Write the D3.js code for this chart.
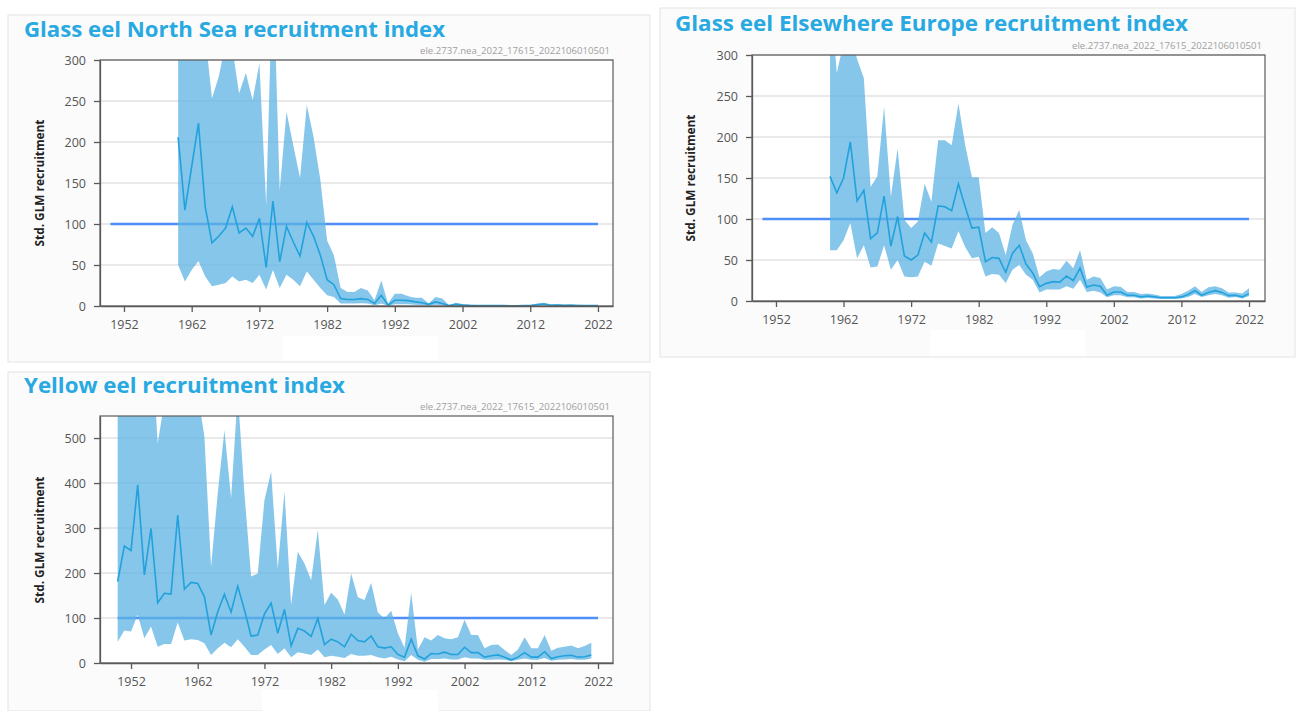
<!DOCTYPE html>
<html>
<head>
<meta charset="utf-8">
<script src="https://cdn.jsdelivr.net/npm/d3@7"></script>
<style>
body { margin: 0; background: #fff; }
text { font-family: "Open Sans", sans-serif; }
</style>
</head>
<body>
<svg id="chart" width="1296" height="711"></svg>
<script>
// tick labels shared by the three panels
var yearTicks = [1952, 1962, 1972, 1982, 1992, 2002, 2012, 2022];
var glassTicks = [0, 50, 100, 150, 200, 250, 300];
var yellowTicks = [0, 100, 200, 300, 400, 500];
var refValue = 100;
var refYears = [1950, 2022];
var stamp = "ele.2737.nea_2022_17615_2022106010501";

// Glass eel North Sea, 1960-2022
var nsStart = 1960;
var nsMean = [206,117,170,223,121,77,85,95,121,89,
  95,85,107,47,128,54,97,78,61,102,
  85,62,32,26,9,8,8,9,8,3,
  13,1,7,7,6.5,5,4,2,5,3,
  0.5,2,1.2,0.8,0.6,0.5,0.5,0.4,0.4,0.3,
  0.3,0.4,0.6,1.5,2.5,1,1.2,0.8,1,0.7,
  0.6,0.5,0.4];
var nsUpper = [500,460,420,380,330,253,280,320,315,259,
  284,251,296,123,420,141,237,196,156,245,
  206,154,80,62,22,17,17,22,19,7,
  31,3,15,15,12,10,10,3,11,9,
  1,4,2.5,1.5,1.2,1,1,0.8,0.8,0.6,
  0.6,0.8,1.2,3,4,2,2.2,1.5,2,1.4,
  1.2,1,0.8];
var nsLower = [50,30,44,55,36,24,26,28,36,30,
  32,28,38,20,44,22,38,32,24,42,
  32,22,13,11,3,3,3,3.5,3,1,
  3,0.2,2,2,2,1.5,1.2,0.5,1.5,1,
  0.1,0.5,0.4,0.3,0.2,0.2,0.2,0.2,0.2,0.1,
  0.1,0.2,0.3,0.6,1,0.4,0.5,0.3,0.4,0.3,
  0.2,0.2,0.1];

// Glass eel Elsewhere Europe, 1960-2022
var eeStart = 1960;
var eeMean = [152,132,150,194,122,135,76,83,128,67,
  103,55,50,56,83,72,116,115,110,143,
  115,89,90,48,53,52,35,58,68,45,
  34,17.5,21.5,23.6,23,30.5,25,40,17,19.5,
  18,7,11,11,7,7,5,6,5,4,
  4,4,5,8,12.6,7,10.5,12.6,10.5,6.5,
  7,5,9];
var eeUpper = [380,278,315,325,295,272,139,152,237,127,
  186,99,89,97,143,121,196,196,190,241,
  190,151,151,83,90,83,56,93,111,74,
  58,29,36,39,38,49,40,62,26,30,
  28,14,18,17.5,11,11,8.5,9,8,6,
  6,6,8.5,12.6,18,11,16.7,18,15.4,10.5,
  10.5,9,15.4];
var eeLower = [62,62,74,95,52,68,41,42,68,38,
  50,30,29,30,48,43,70,67,64,85,
  66,52,54,30,33,32,22,38,44,32,
  26,10.5,14,14,14,18,15,26,11,12.6,
  10.5,4.5,7,7,4.5,4.5,3,3.7,3,2.4,
  2.4,2.4,3,5,8.5,5,7,8.5,7,4,
  5,3,6];

// Yellow eel, 1950-2021
var yeStart = 1950;
var yeMean = [181,260,250,396,196,299,134,155,153,329,
  164,179,177,147,62,114,153,113,171,118,
  60,62,109,133,66,119,38,77,71,59,
  99,41,53,47,36,64,50,47,60,36,
  33,36,19,13,53,16,9,21,20,24,
  19,19,35,23,23,13,16,18,13,7,
  13,23,13,13,25,10,14,16,17,13,
  14,18];
var yeUpper = [900,850,800,950,750,740,488,580,700,850,
  800,700,600,503,214,377,518,366,600,377,
  192,199,362,425,210,381,129,247,221,184,
  296,129,156,141,108,199,146,140,178,112,
  99,116,66,34,156,30,57,50,62,55,
  53,57,96,62,62,33,40,41,29,18,
  30,57,33,33,62,27,34,36,39,33,
  38,45];
var yeLower = [47,72,70,107,55,81,36,42,42,90,
  50,53,51,44,18,33,45,35,53,36,
  18,18,30,40,20,33,13,24,21,18,
  30,13,16,14,11,20,16,16,18,13,
  10,14,8,4,18,7,3,9,9,10,
  8,8,13,10,10,7,7,8,7,4,
  7,10,7,7,11,5,7,8,9,7,
  7,10];

var svg = d3.select("#chart");

function toRows(start, mean, lower, upper) {
  return mean.map(function(m, i) {
    return {year: start + i, mean: m, lower: lower[i], upper: upper[i]};
  });
}

function drawPanel(p, idx) {
  svg.append("rect")
      .attr("x", p.box[0]).attr("y", p.box[1])
      .attr("width", p.box[2]).attr("height", p.box[3])
      .attr("fill", "#fbfbfb").attr("stroke", "#e4e4e4");
  svg.append("rect")
      .attr("x", p.patch[0]).attr("y", p.patch[1])
      .attr("width", p.patch[2]).attr("height", p.patch[3])
      .attr("fill", "#fff");

  svg.append("text")
      .attr("x", p.title[0]).attr("y", p.title[1])
      .attr("textLength", p.title[2]).attr("lengthAdjust", "spacingAndGlyphs")
      .style("font-size", "21px").style("font-weight", 700)
      .attr("fill", "#29a9e1")
      .text(p.name);

  svg.append("text")
      .attr("x", p.left + p.width - 3).attr("y", p.top - 6)
      .attr("text-anchor", "end")
      .attr("textLength", 190).attr("lengthAdjust", "spacingAndGlyphs")
      .style("font-size", "9px").attr("fill", "#a0a0a0")
      .text(stamp);

  var x = d3.scaleLinear().domain(p.xDomain).range([0, p.width]);
  var y = d3.scaleLinear().domain(p.yDomain).range([p.height, 0]);

  var g = svg.append("g").attr("transform", "translate(" + p.left + "," + p.top + ")");

  g.append("clipPath").attr("id", "clip" + idx)
    .append("rect").attr("width", p.width).attr("height", p.height);

  g.append("rect").attr("width", p.width).attr("height", p.height).attr("fill", "#fff");

  g.selectAll(".grid")
    .data(p.yTicks.slice(1))
    .enter().append("line")
      .attr("x1", 0).attr("x2", p.width)
      .attr("y1", function(d) { return y(d); })
      .attr("y2", function(d) { return y(d); })
      .attr("stroke", "#e2e2e2").attr("stroke-width", 1.5);

  g.append("line")
      .attr("x1", x(refYears[0])).attr("x2", x(refYears[1]))
      .attr("y1", y(refValue)).attr("y2", y(refValue))
      .attr("stroke", "#4f8ef6").attr("stroke-width", 2.5);

  var rows = toRows(p.start, p.mean, p.lower, p.upper);

  var area = d3.area()
      .x(function(d) { return x(d.year); })
      .y0(function(d) { return y(d.lower); })
      .y1(function(d) { return y(d.upper); });

  var line = d3.line()
      .x(function(d) { return x(d.year); })
      .y(function(d) { return y(d.mean); });

  g.append("path").datum(rows)
      .attr("clip-path", "url(#clip" + idx + ")")
      .attr("d", area)
      .attr("fill", "#5cb3e3").attr("fill-opacity", 0.75);

  g.append("path").datum(rows)
      .attr("clip-path", "url(#clip" + idx + ")")
      .attr("d", line)
      .attr("fill", "none").attr("stroke", "#22a2dc").attr("stroke-width", 1.6);

  var yAxis = g.append("g")
      .call(d3.axisLeft(y).tickValues(p.yTicks).tickSize(6).tickSizeOuter(0).tickPadding(8));

  var xAxis = g.append("g")
      .attr("transform", "translate(0," + p.height + ")")
      .call(d3.axisBottom(x).tickValues(yearTicks).tickFormat(d3.format("d"))
        .tickSize(6).tickSizeOuter(0).tickPadding(8));

  [yAxis, xAxis].forEach(function(a) {
    a.select(".domain").attr("stroke", "#5a5a5a").attr("stroke-width", 1.3);
    a.selectAll(".tick line").attr("stroke", "#5a5a5a").attr("stroke-width", 1.3);
    a.selectAll(".tick text").attr("fill", "#555")
      .style("font-size", "12.5px").style("font-family", "'Open Sans', sans-serif");
  });

  g.append("rect").attr("width", p.width).attr("height", p.height)
      .attr("fill", "none").attr("stroke", "#5a5a5a").attr("stroke-width", 1.2);

  svg.append("text")
      .attr("transform", "translate(" + p.yLabel[0] + "," + p.yLabel[1] + ") rotate(-90)")
      .attr("text-anchor", "middle")
      .attr("textLength", 127).attr("lengthAdjust", "spacingAndGlyphs")
      .style("font-size", "11.5px").style("font-weight", 700)
      .attr("fill", "#222")
      .text("Std. GLM recruitment");
}

var panels = [
  {name: "Glass eel North Sea recruitment index", box: [8, 15, 642, 347], patch: [283, 336, 155, 25],
   title: [24, 37, 421], left: 100, top: 60, width: 513, height: 246,
   xDomain: [1948.46, 2024.22], yDomain: [0, 300], yTicks: glassTicks, yLabel: [44, 183],
   start: nsStart, mean: nsMean, lower: nsLower, upper: nsUpper},
  {name: "Glass eel Elsewhere Europe recruitment index", box: [660, 8, 635, 349], patch: [930, 330, 155, 26],
   title: [675, 31, 513], left: 752, top: 55, width: 513, height: 246,
   xDomain: [1948.45, 2024.37], yDomain: [0, 300], yTicks: glassTicks, yLabel: [695, 178],
   start: eeStart, mean: eeMean, lower: eeLower, upper: eeUpper},
  {name: "Yellow eel recruitment index", box: [8, 372, 642, 339], patch: [262, 690, 176, 21],
   title: [24, 393, 321], left: 100, top: 416, width: 513, height: 247,
   xDomain: [1947.35, 2024.25], yDomain: [0, 549], yTicks: yellowTicks, yLabel: [44, 540],
   start: yeStart, mean: yeMean, lower: yeLower, upper: yeUpper}
];

panels.forEach(drawPanel);
</script>
</body>
</html>
